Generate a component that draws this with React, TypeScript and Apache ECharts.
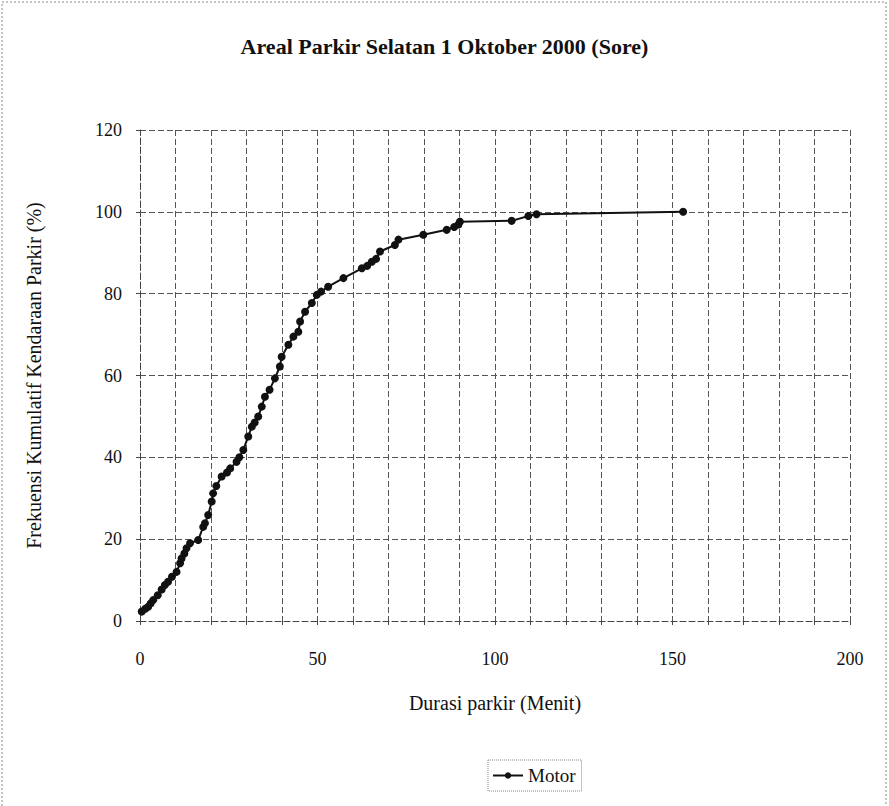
import React, { useEffect, useRef } from "react";
import * as echarts from "echarts";

const durasi: number[] = [
  0.5, 1.5, 2.3, 3, 3.7, 5, 6.1, 7, 7.9, 9, 10.3, 11.3, 11.7, 12.5, 13.1, 14.1,
  16.4, 17.8, 18.3, 19.2, 20.2, 20.6, 21.5, 23, 24.5, 25.4, 27.2, 28, 29.1, 30.5,
  31.5, 32.3, 33.3, 34.3, 35.2, 36.5, 38, 39.4, 39.9, 41.8, 43.2, 44.6, 45.1, 46.5,
  48.4, 49.8, 51, 53, 57.3, 62.5, 64, 65.3, 66.5, 67.6, 71.8, 72.8, 79.8, 86.4,
  88.5, 89.7, 90.1, 104.7, 109.4, 111.7, 153,
];
const frekuensi: number[] = [
  2.3, 3, 3.5, 4.3, 5.1, 6.3, 7.7, 8.8, 9.6, 10.8, 12, 14.1, 15.3, 16.5, 17.8, 19,
  19.8, 23, 23.9, 25.9, 29.2, 31.2, 33, 35.3, 36.3, 37.3, 38.9, 40, 41.8, 45.1,
  47.5, 48.5, 50, 52.4, 54.8, 56.5, 59.3, 62.2, 64.6, 67.5, 69.5, 70.7, 73.2, 75.6,
  77.7, 79.7, 80.5, 81.7, 83.8, 86.2, 86.8, 87.8, 88.5, 90.3, 91.9, 93.2, 94.4, 95.6,
  96.3, 96.9, 97.6, 97.8, 99, 99.4, 100,
];

const chartTitle = "Areal Parkir Selatan 1 Oktober 2000 (Sore)";
const xName = "Durasi parkir (Menit)";
const yName = "Frekuensi Kumulatif Kendaraan Parkir (%)";
const seriesName = "Motor";

const FONT = "'Liberation Serif', 'Times New Roman', serif";

export default function App() {
  const ref = useRef<HTMLDivElement>(null);
  useEffect(() => {
    document.body.style.margin = "0";
    if (!ref.current) return;
    const chart = echarts.init(ref.current, null, { renderer: "svg" });
    const data = durasi.map((x, i) => [x, frekuensi[i]]);
    const grid = { type: [6, 3] as any, color: "#555", width: 1 };
    chart.setOption({
      animation: false,
      backgroundColor: "#fff",
      title: {
        text: chartTitle,
        left: "center",
        top: 30,
        textStyle: { fontFamily: FONT, fontSize: 22, fontWeight: "bold", color: "#111" },
      },
      grid: { left: 140, right: 39, top: 130, bottom: 185 },
      xAxis: {
        type: "value",
        min: 0,
        max: 200,
        interval: 10,
        name: xName,
        nameLocation: "middle",
        nameGap: 72,
        nameTextStyle: { fontFamily: FONT, fontSize: 20, color: "#111" },
        axisLine: { show: true, lineStyle: { color: "#444", type: [6, 3] as any } },
        axisTick: { show: true, length: 4, lineStyle: { color: "#444" } },
        axisLabel: {
          fontFamily: FONT,
          fontSize: 18,
          color: "#111",
          margin: 29,
          formatter: (v: number) => (v % 50 === 0 ? String(v) : ""),
        },
        splitLine: { show: true, lineStyle: grid },
      },
      yAxis: {
        type: "value",
        min: 0,
        max: 120,
        interval: 20,
        name: yName,
        nameLocation: "middle",
        nameGap: 96,
        nameRotate: 90,
        nameTextStyle: { fontFamily: FONT, fontSize: 20, color: "#111" },
        axisLine: { show: true, lineStyle: { color: "#444", type: [6, 3] as any } },
        axisTick: { show: true, length: 4, lineStyle: { color: "#444" } },
        axisLabel: { fontFamily: FONT, fontSize: 18, color: "#111", margin: 18 },
        splitLine: { show: true, lineStyle: grid },
      },
      legend: {
        left: 488,
        top: 760,
        data: [seriesName],
        itemWidth: 30,
        itemHeight: 8,
        itemGap: 4,
        padding: [6, 6, 6, 4],
        borderColor: "#888",
        borderWidth: 1,
        borderType: "dotted",
        textStyle: { fontFamily: FONT, fontSize: 19, color: "#111" },
      },
      graphic: [
        {
          type: "rect",
          shape: { x: 2, y: 2, width: 884, height: 810 },
          style: { fill: "none", stroke: "#888", lineWidth: 1, lineDash: [2, 2] },
          silent: true,
        },
      ],
      series: [
        {
          name: seriesName,
          type: "line",
          data,
          symbol: "circle",
          symbolSize: 8,
          showAllSymbol: true,
          lineStyle: { color: "#111", width: 2 },
          itemStyle: { color: "#111" },
        },
      ],
    });
    return () => chart.dispose();
  }, []);
  return <div ref={ref} style={{ width: 889, height: 806 }} />;
}
